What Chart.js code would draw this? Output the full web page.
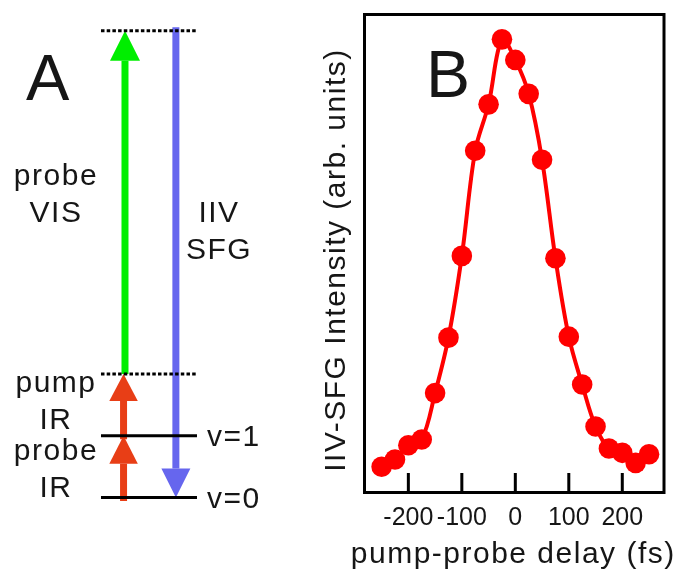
<!DOCTYPE html>
<html>
<head>
<meta charset="utf-8">
<title>IIV-SFG pump-probe</title>
<script src="https://cdn.jsdelivr.net/npm/chart.js@4.4.1/dist/chart.umd.min.js"></script>
<style>
  html, body { margin: 0; padding: 0; background: #fff; }
  #wrap { position: relative; width: 677px; height: 571px; }
  #levels { position: absolute; left: 0; top: 0; }
  #delay { position: absolute; left: 300px; top: 0; }
</style>
</head>
<body>
<div id="wrap">
  <canvas id="levels" width="300" height="571"></canvas>
  <canvas id="delay" width="377" height="571"></canvas>
</div>
<script>
// panel B: IIV-SFG signal vs pump-probe delay
const delays = [-250, -225, -200, -175, -150, -125, -100, -75, -50, -25, 0,
  25, 50, 75, 100, 125, 150, 175, 200, 225, 250];
const intensity = [5.4, 6.9, 9.9, 11.1, 20.8, 32.4, 49.5, 71.5, 81.2, 94.8, 90.5,
  83.4, 69.6, 49.0, 32.6, 22.6, 13.8, 9.2, 8.3, 6.2, 8.0];
const delayTicks = [-200, -100, 0, 100, 200];
const xTitle = 'pump-probe delay (fs)';
const yTitle = 'IIV-SFG Intensity (arb. units)';

// panel A: energy levels in units of the IR photon
const levelNames = ['v=0', 'v=1'];
const levelEnergy = [0, 1];
const virtualEnergy = [2, 7.56];
// transitions drawn as arrows: start level -> end level
const transFrom = [0, 1, 2, 7.56];
const transTo = [1, 2, 7.56, 0];
const transLabels = [['probe', 'IR'], ['pump', 'IR'], ['probe', 'VIS'], ['IIV', 'SFG']];

const FONT = "'Liberation Sans', Arial, Helvetica, sans-serif";
Chart.defaults.font.family = FONT;
const INK = '#161616';

// arrow columns (x across the level width 0..1) and looks
const arrowX = [0.235, 0.235, 0.25, 0.78];
const arrowLook = [
  { color: 'rgb(232,62,22)', cap: 'square', len: 28, width: 28.5 },
  { color: 'rgb(232,62,22)', cap: 'square', len: 27, width: 28.5 },
  { color: '#00ee00', cap: 'butt', len: 30, width: 30 },
  { color: '#6666ee', cap: 'square', len: 29, width: 29 }
];
// where each transition label block starts (x, energy of first baseline)
const labelAnchor = [[-0.469, 0.607], [-0.469, 1.709], [-0.469, 5.061], [1.229, 4.462]];

const levelSets = levelEnergy.map(e => ({
  data: [{ x: 0, y: e }, { x: 1, y: e }],
  borderColor: '#000', borderWidth: 3
})).concat(virtualEnergy.map(e => ({
  data: [{ x: 0, y: e }, { x: 1, y: e }],
  borderColor: '#000', borderWidth: 3, borderDash: [3.5, 2.2]
})));

const arrowSets = transFrom.map((from, i) => ({
  data: [{ x: arrowX[i], y: from }, { x: arrowX[i], y: transTo[i] }],
  borderColor: arrowLook[i].color,
  borderWidth: 7,
  borderCapStyle: arrowLook[i].cap,
  head: arrowLook[i]
}));

// shaft is drawn by the line, the head region is clipped out and filled as a triangle
const arrowHeads = {
  id: 'arrowHeads',
  beforeDatasetDraw(chart, args) {
    const ds = chart.data.datasets[args.index];
    if (!ds.head) return;
    const pts = args.meta.data;
    const tail = pts[0], tip = pts[pts.length - 1];
    const dir = tip.y > tail.y ? 1 : -1;
    const ctx = chart.ctx;
    ctx.save();
    ctx.beginPath();
    ctx.rect(0, 0, chart.width, chart.height);
    ctx.rect(tip.x - ds.head.width, tip.y - dir * ds.head.len, ds.head.width * 2, dir * (ds.head.len + 10));
    ctx.clip('evenodd');
  },
  afterDatasetDraw(chart, args) {
    const ds = chart.data.datasets[args.index];
    if (!ds.head) return;
    const ctx = chart.ctx;
    ctx.restore();
    const pts = args.meta.data;
    const tail = pts[0], tip = pts[pts.length - 1];
    const dir = tip.y > tail.y ? 1 : -1;
    const { len, width } = ds.head;
    ctx.save();
    ctx.fillStyle = ds.borderColor;
    ctx.beginPath();
    ctx.moveTo(tip.x, tip.y);
    ctx.lineTo(tip.x - width / 2, tip.y - dir * len);
    ctx.lineTo(tip.x + width / 2, tip.y - dir * len);
    ctx.closePath();
    ctx.fill();
    ctx.restore();
  }
};

const diagramText = {
  id: 'diagramText',
  afterDatasetsDraw(chart) {
    const { ctx, scales: { x, y } } = chart;
    ctx.save();
    ctx.fillStyle = INK;
    ctx.font = '65px ' + FONT;
    ctx.fillText('A', 26, 100);

    ctx.font = '30px ' + FONT;
    ctx.letterSpacing = '1.5px';
    ctx.textAlign = 'center';
    transLabels.forEach((lines, i) => {
      const px = x.getPixelForValue(labelAnchor[i][0]);
      const py = y.getPixelForValue(labelAnchor[i][1]);
      lines.forEach((t, k) => ctx.fillText(t, px, py + k * 37));
    });

    ctx.textAlign = 'left';
    ctx.textBaseline = 'middle';
    levelNames.forEach((n, i) => {
      ctx.fillText(n, x.getPixelForValue(1.104), y.getPixelForValue(levelEnergy[i]) + 2);
    });
    ctx.restore();
  }
};

new Chart(document.getElementById('levels'), {
  type: 'line',
  data: { datasets: levelSets.concat(arrowSets) },
  options: {
    responsive: false,
    animation: false,
    devicePixelRatio: 1,
    elements: { point: { radius: 0, hoverRadius: 0 }, line: { tension: 0 } },
    scales: {
      x: { type: 'linear', display: false, min: -1.052, max: 2.073 },
      y: { type: 'linear', display: false, min: -1.19, max: 8.057 }
    },
    plugins: { legend: { display: false }, tooltip: { enabled: false } }
  },
  plugins: [arrowHeads, diagramText]
});

// box, inward ticks and axis titles for the delay scan
const frameAndTitles = {
  id: 'frameAndTitles',
  beforeDatasetsDraw(chart) {
    const { ctx, chartArea: a, scales: { x } } = chart;
    ctx.save();
    ctx.strokeStyle = '#000';
    ctx.lineWidth = 3;
    ctx.strokeRect(a.left, a.top, a.right - a.left, a.bottom - a.top);
    ctx.beginPath();
    x.ticks.forEach(t => {
      const px = x.getPixelForValue(t.value);
      ctx.moveTo(px, a.bottom);
      ctx.lineTo(px, a.bottom - 19.5);
    });
    ctx.stroke();

    ctx.fillStyle = INK;
    ctx.font = '66px ' + FONT;
    ctx.fillText('B', a.left + 61.5, a.top + 82.5);

    ctx.font = '30px ' + FONT;
    ctx.letterSpacing = '1.5px';
    ctx.textAlign = 'center';
    ctx.fillText(xTitle, (a.left + a.right) / 2 - 1, a.bottom + 70.5);
    ctx.translate(a.left - 19.5, (a.top + a.bottom) / 2 + 6.5);
    ctx.rotate(-Math.PI / 2);
    ctx.fillText(yTitle, 0, 0);
    ctx.restore();
  }
};

new Chart(document.getElementById('delay'), {
  type: 'line',
  data: {
    datasets: [{
      data: delays.map((d, i) => ({ x: d, y: intensity[i] })),
      borderColor: '#ff0000',
      borderWidth: 4,
      tension: 0.35,
      pointRadius: 10.3,
      pointHoverRadius: 10.3,
      pointBorderWidth: 0,
      pointBackgroundColor: '#ff0000'
    }]
  },
  options: {
    responsive: false,
    animation: false,
    devicePixelRatio: 1,
    layout: { padding: { left: 64.5, right: 13, top: 14.5, bottom: 0 } },
    scales: {
      x: {
        type: 'linear',
        min: -282,
        max: 278,
        afterBuildTicks: scale => { scale.ticks = delayTicks.map(v => ({ value: v })); },
        afterFit: scale => { scale.height = 78.5; },
        grid: { display: false, drawTicks: false },
        border: { display: false },
        ticks: { font: { size: 25 }, color: INK, padding: 11, autoSkip: false, maxRotation: 0, minRotation: 0 }
      },
      y: { display: false, min: 0, max: 100 }
    },
    plugins: { legend: { display: false }, tooltip: { enabled: false } }
  },
  plugins: [frameAndTitles]
});
</script>
</body>
</html>
